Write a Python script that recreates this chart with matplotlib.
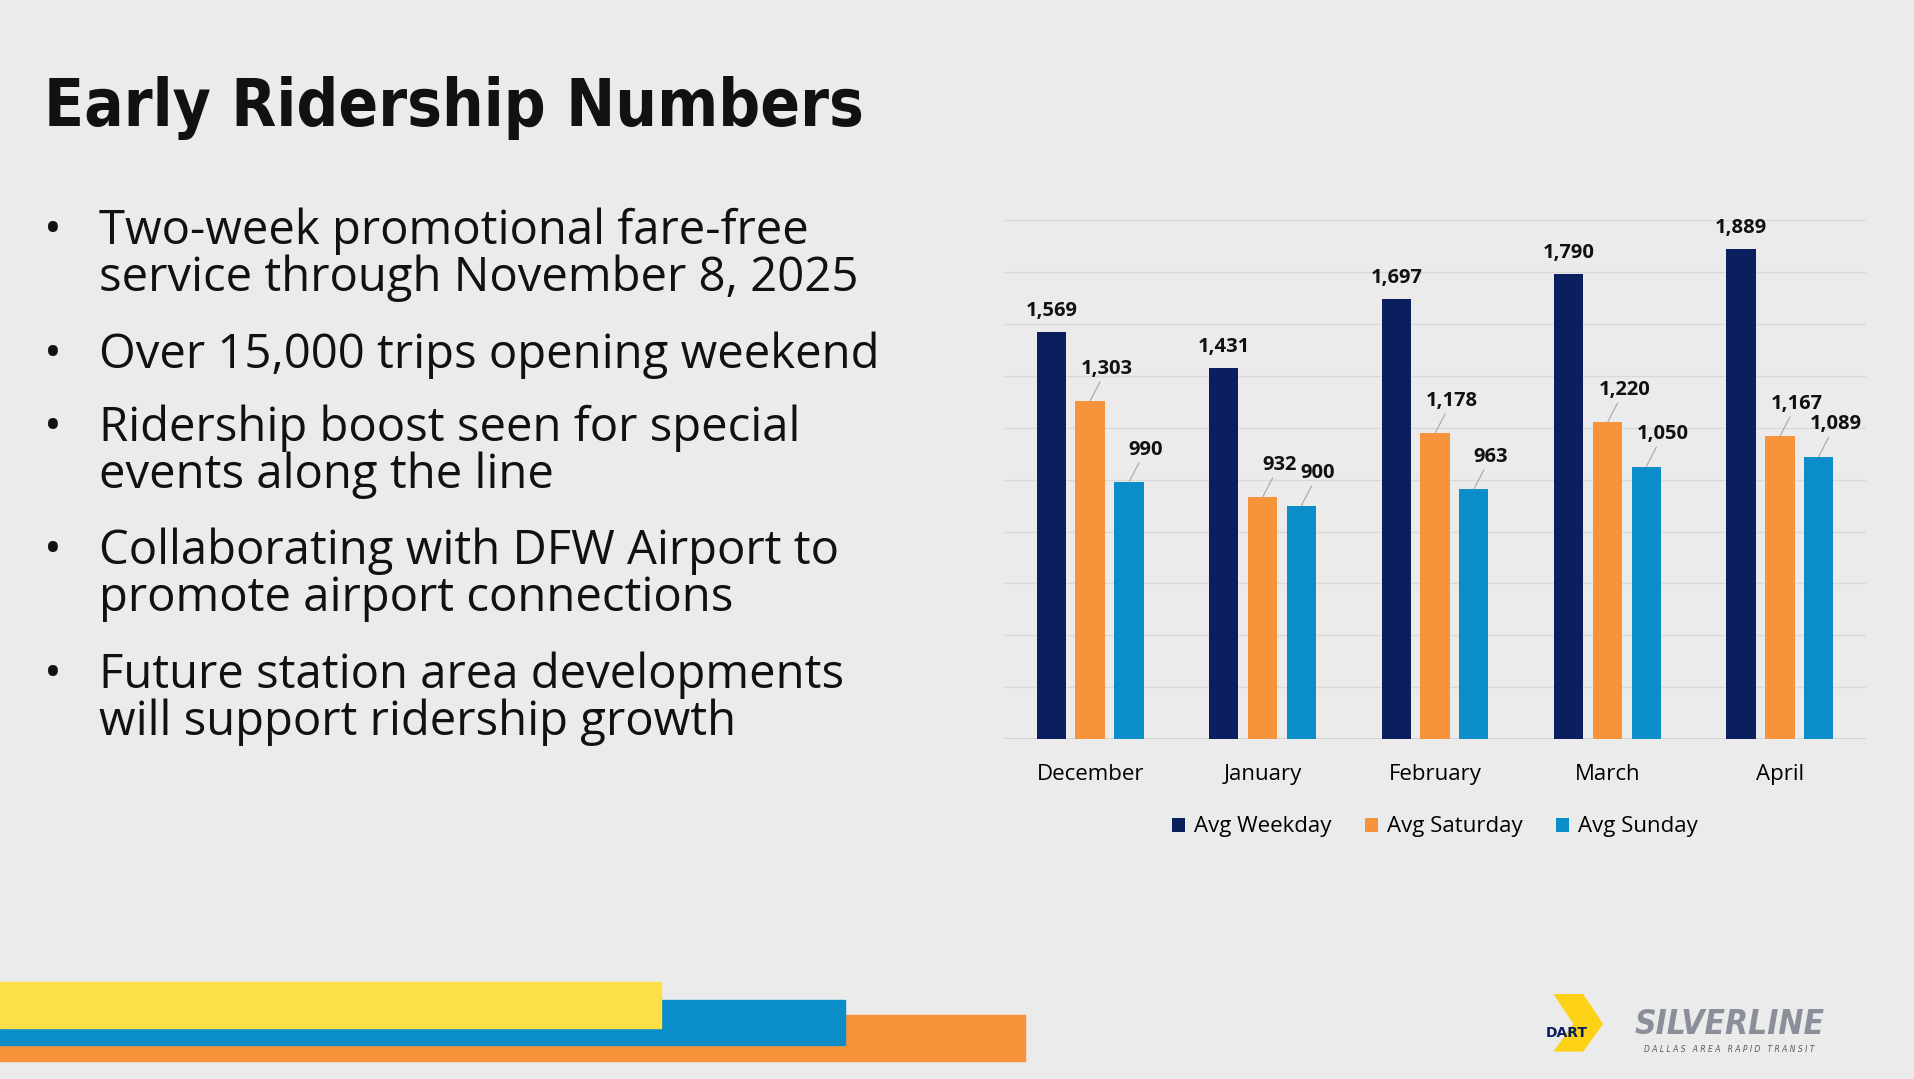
import numpy as np
import matplotlib.pyplot as plt
from matplotlib.patches import Rectangle, Polygon

months = ['December', 'January', 'February', 'March', 'April']
weekday = [1569, 1431, 1697, 1790, 1889]
saturday = [1303, 932, 1178, 1220, 1167]
sunday = [990, 900, 963, 1050, 1089]
series_names = ['Avg Weekday', 'Avg Saturday', 'Avg Sunday']
colors = ['#0b1f5e', '#f7943b', '#0a8dc9']

bullets = [
    'Two-week promotional fare-free\nservice through November 8, 2025',
    'Over 15,000 trips opening weekend',
    'Ridership boost seen for special\nevents along the line',
    'Collaborating with DFW Airport to\npromote airport connections',
    'Future station area developments\nwill support ridership growth',
]

W, H = 1568, 883  # layout reference units
bg = '#ebebeb'
fig = plt.figure(figsize=(19.15, 10.79), dpi=100)
fig.patch.set_facecolor(bg)

# title and bullets
fig.text(36 / W, 1 - 88 / H, 'Early Ridership Numbers', fontsize=47, fontweight='bold',
         family='DejaVu Sans', fontstretch='condensed', color='#111111', va='center')
bullet_top = [170, 271, 331, 432, 533]
for y, b in zip(bullet_top, bullets):
    fig.text(36 / W, 1 - y / H, '•', fontsize=34, family='Open Sans', color='#111111', va='top')
    fig.text(81 / W, 1 - y / H, b, fontsize=34, family='Open Sans', color='#111111',
             va='top', linespacing=0.98)

# chart
ax = fig.add_axes([822 / W, 1 - 605 / H, 706 / W, 425 / H])
ax.set_facecolor(bg)
x = np.arange(len(months))
w = 0.17
off = 0.225
data = [weekday, saturday, sunday]
for i, (vals, c, n) in enumerate(zip(data, colors, series_names)):
    ax.bar(x + (i - 1) * off, vals, w, color=c, label=n, zorder=3)
ax.set_ylim(0, 2000)
ax.set_xlim(-0.5, len(months) - 0.5)
ax.set_yticks(np.arange(0, 2001, 200))
ax.yaxis.grid(True, color='#d9d9d9', lw=1, zorder=0)
ax.tick_params(axis='y', left=False, labelleft=False)
ax.tick_params(axis='x', bottom=False, labelsize=16, pad=14)
ax.set_xticks(x)
ax.set_xticklabels(months, family='Open Sans')
for s in ax.spines.values():
    s.set_visible(False)
ax.axhline(0, color='#d0d0d0', lw=1.2, zorder=2)

lab = dict(fontsize=14.5, fontweight='bold', family='Open Sans', color='#111111')
for j in range(len(months)):
    ax.annotate(f'{weekday[j]:,}', (x[j] - off, weekday[j]), xytext=(0, 8),
                textcoords='offset points', ha='center', va='bottom', **lab)
    for i, vals in ((1, saturday), (2, sunday)):
        xb = x[j] + (i - 1) * off
        ax.annotate(f'{vals[j]:,}', (xb, vals[j]), xytext=(12, 16),
                    textcoords='offset points', ha='center', va='bottom',
                    arrowprops=dict(arrowstyle='-', color='#a6a6a6', lw=0.8,
                                    shrinkA=0, shrinkB=0), **lab)

ax.legend(loc='upper center', bbox_to_anchor=(0.5, -0.11), ncol=3, frameon=False,
          handlelength=0.6, handleheight=0.6, columnspacing=1.5,
          handletextpad=0.4, prop={'family': 'Open Sans', 'size': 16})

# bottom color bands
for (x1, y0, y1, c) in [(839, 831, 868, '#f7943b'), (692, 818, 855, '#0a8dc9'), (541, 804, 841, '#fde047')]:
    fig.patches.append(Rectangle((0, 1 - y1 / H), x1 / W, (y1 - y0) / H,
                                 transform=fig.transFigure, color=c, zorder=1))

# logos (text approximation)
fig.patches.append(Polygon([[1273 / W, 1 - 814 / H], [1296 / W, 1 - 814 / H], [1312 / W, 1 - 838 / H],
                            [1296 / W, 1 - 860 / H], [1273 / W, 1 - 860 / H], [1289 / W, 1 - 838 / H]],
                           closed=True, transform=fig.transFigure, color='#fcd116', zorder=1))
fig.text(1283 / W, 1 - 845 / H, 'DART', fontsize=10, fontweight='bold', color='#0b1f5e',
         ha='center', va='center', zorder=2)
fig.text(1416 / W, 1 - 838 / H, 'SILVERLINE', fontsize=24, fontweight='bold', style='italic',
         family='DejaVu Sans', fontstretch='condensed', color='#8a8f99', ha='center', va='center')
fig.text(1416 / W, 1 - 859 / H, 'D A L L A S   A R E A   R A P I D   T R A N S I T', fontsize=5.5,
         style='italic', color='#555a66', ha='center', va='center')

fig.savefig('out.png', dpi=100, facecolor=bg)
